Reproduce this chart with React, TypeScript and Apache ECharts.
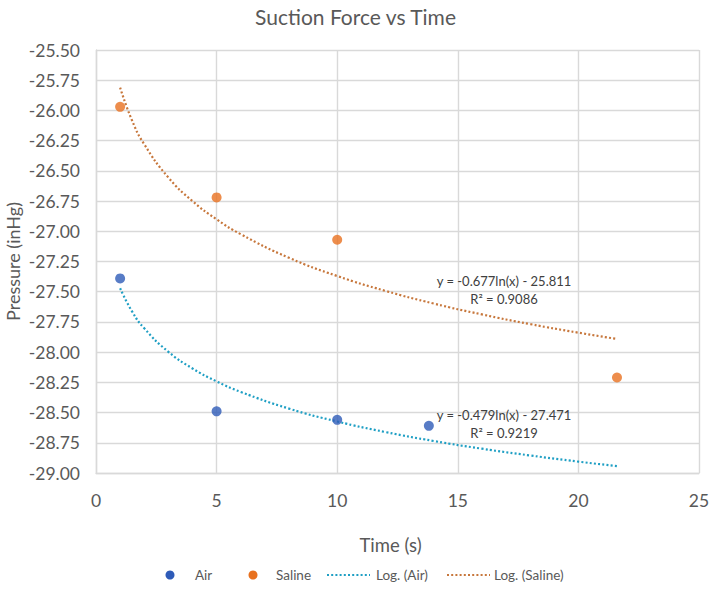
import React, { useEffect, useRef } from "react";
import * as echarts from "echarts";

const airX = [1, 5, 10, 13.8];
const airY = [-27.39, -28.49, -28.56, -28.61];
const salineX = [1, 5, 10, 21.6];
const salineY = [-25.97, -26.72, -27.07, -28.21];

const trendX = [1, 1.5, 2, 3, 4, 5, 6, 8, 10, 12, 14, 16, 18, 20, 21.6];
const airTrendY = [-27.471, -27.665, -27.803, -27.997, -28.135, -28.242, -28.329, -28.467, -28.574, -28.661, -28.735, -28.799, -28.855, -28.906, -28.943];
const salineTrendY = [-25.811, -26.086, -26.28, -26.555, -26.75, -26.901, -27.024, -27.219, -27.37, -27.493, -27.598, -27.688, -27.768, -27.839, -27.891];

const salineEq = ["y = -0.677ln(x) - 25.811", "R² = 0.9086"];
const airEq = ["y = -0.479ln(x) - 27.471", "R² = 0.9219"];
const legendNames = ["Air", "Saline", "Log. (Air)", "Log. (Saline)"];

const FONT = "Lato";
const TXT = "#595959";
const AIR = "#2e5bb8";
const SAL = "#e8711f";
const AIR_T = "#1f9fc4";
const SAL_T = "#c7773c";

export default function App() {
  const ref = useRef<HTMLDivElement>(null);
  useEffect(() => {
    document.body.style.margin = "0";
    if (!ref.current) return;
    const chart = echarts.init(ref.current, null, { renderer: "svg" });
    const pair = (xs: number[], ys: number[]) => xs.map((x, i) => [x, ys[i]]);
    const legendY = 575;
    const legendText = (x: number, t: string) => ({
      type: "text",
      x,
      y: legendY,
      style: { text: t, fontFamily: FONT, fontSize: 13.5, fill: TXT, verticalAlign: "middle" },
    });
    chart.setOption({
      animation: false,
      backgroundColor: "#ffffff",
      textStyle: { fontFamily: FONT },
      title: {
        text: "Suction Force vs Time",
        left: "center",
        top: 1,
        textStyle: { fontFamily: FONT, fontSize: 21, fontWeight: "normal", color: TXT },
      },
      grid: {
        left: 96,
        right: 12,
        top: 50,
        bottom: 117,
        containLabel: false,
        outerBoundsMode: "none",
      },
      xAxis: {
        type: "value",
        min: 0,
        max: 25,
        interval: 5,
        name: "Time (s)",
        nameLocation: "middle",
        nameGap: 62,
        nameTextStyle: { fontFamily: FONT, fontSize: 18.5, color: TXT, padding: [0, 14, 0, 0] },
        axisLine: { show: true, lineStyle: { color: "#d9d9d9", width: 1.4 } },
        axisTick: { show: false },
        axisLabel: { fontFamily: FONT, fontSize: 17.5, color: TXT, margin: 18 },
        splitLine: { show: true, lineStyle: { color: "#d9d9d9", width: 1.4 } },
      },
      yAxis: {
        type: "value",
        min: -29,
        max: -25.5,
        interval: 0.25,
        name: "Pressure (inHg)",
        nameLocation: "middle",
        nameGap: 74,
        nameMoveOverlap: false,
        nameTextStyle: { fontFamily: FONT, fontSize: 18, color: TXT },
        axisLine: { show: true, lineStyle: { color: "#d9d9d9", width: 1.4 } },
        axisTick: { show: false },
        axisLabel: {
          fontFamily: FONT,
          fontSize: 17.5,
          color: TXT,
          margin: 16,
          formatter: (v: number) => v.toFixed(2),
        },
        splitLine: { show: true, lineStyle: { color: "#d9d9d9", width: 1.4 } },
      },
      series: [
        {
          name: legendNames[2],
          type: "line",
          data: pair(trendX, airTrendY),
          smooth: true,
          symbol: "none",
          lineStyle: { color: AIR_T, width: 2.2, type: [2, 2.2] },
          z: 2,
        },
        {
          name: legendNames[3],
          type: "line",
          data: pair(trendX, salineTrendY),
          smooth: true,
          symbol: "none",
          lineStyle: { color: SAL_T, width: 2.2, type: [2, 2.2] },
          z: 2,
        },
        {
          name: legendNames[0],
          type: "scatter",
          data: pair(airX, airY),
          symbolSize: 10,
          itemStyle: { color: AIR },
          z: 3,
        },
        {
          name: legendNames[1],
          type: "scatter",
          data: pair(salineX, salineY),
          symbolSize: 10,
          itemStyle: { color: SAL },
          z: 3,
        },
      ],
      graphic: [
        {
          type: "text",
          x: 504,
          y: 290,
          style: {
            text: salineEq.join("\n"),
            fontFamily: FONT,
            fontSize: 13,
            lineHeight: 18,
            fill: "#404040",
            align: "center",
            verticalAlign: "middle",
          },
          z: 10,
        },
        {
          type: "text",
          x: 504,
          y: 424,
          style: {
            text: airEq.join("\n"),
            fontFamily: FONT,
            fontSize: 13,
            lineHeight: 18,
            fill: "#404040",
            align: "center",
            verticalAlign: "middle",
          },
          z: 10,
        },
        { type: "circle", shape: { cx: 170, cy: legendY, r: 4.5 }, style: { fill: AIR } },
        legendText(195, legendNames[0]),
        { type: "circle", shape: { cx: 253, cy: legendY, r: 4.5 }, style: { fill: SAL } },
        legendText(276, legendNames[1]),
        {
          type: "line",
          shape: { x1: 327, y1: legendY, x2: 370, y2: legendY },
          style: { stroke: AIR_T, lineWidth: 2, lineDash: [2, 2.2] },
        },
        legendText(376, legendNames[2]),
        {
          type: "line",
          shape: { x1: 447, y1: legendY, x2: 490, y2: legendY },
          style: { stroke: SAL_T, lineWidth: 2, lineDash: [2, 2.2] },
        },
        legendText(494, legendNames[3]),
      ],
    });
    return () => chart.dispose();
  }, []);
  return <div ref={ref} style={{ width: 711, height: 590 }} />;
}
